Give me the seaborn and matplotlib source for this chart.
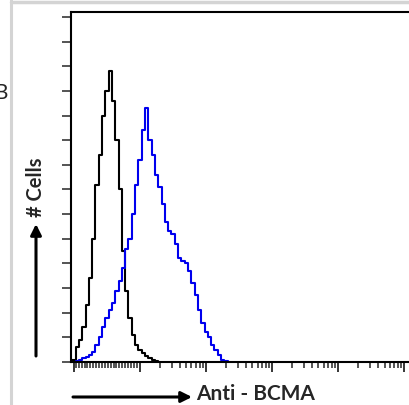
import numpy as np
import pandas as pd
import matplotlib
matplotlib.use('Agg')
import matplotlib.pyplot as plt
import seaborn as sns
from matplotlib.lines import Line2D

# log10 channel positions and cell counts
ctrl_log = [-0.05, 0.00, 0.05, 0.10, 0.15, 0.20, 0.25, 0.30, 0.35, 0.40, 0.45, 0.50,
            0.55, 0.60, 0.65, 0.70, 0.75, 0.80, 0.85, 0.90, 0.95, 1.00, 1.05,
            1.10, 1.15, 1.20, 1.25, 1.30]
ctrl_count = [0, 1, 6, 9, 14, 23, 34, 50, 72, 84, 100, 110,
              118, 106, 90, 70, 45, 29, 18, 11, 7, 5, 3.5,
              2.5, 1.5, 1, 0.5, 0]

bcma_log = [0.00, 0.05, 0.10, 0.15, 0.20, 0.25, 0.30, 0.35, 0.40, 0.45, 0.50,
            0.55, 0.60, 0.65, 0.70, 0.75, 0.80, 0.85, 0.90, 0.95, 1.00,
            1.05, 1.10, 1.15, 1.20, 1.25, 1.30, 1.35, 1.40, 1.45, 1.50,
            1.55, 1.60, 1.65, 1.70, 1.75, 1.80, 1.85, 1.90, 1.95, 2.00,
            2.05, 2.10, 2.15, 2.20, 2.25, 2.30, 2.35]
bcma_count = [0, 0.5, 1, 1.5, 2, 3, 4, 7, 10, 14, 18,
              21, 24, 29, 33, 38, 46, 50, 60, 72, 82,
              94, 103, 90, 84, 76, 71, 64, 57, 53, 52,
              48, 42, 41, 40, 37, 32, 27, 21, 16, 12,
              10, 7, 5, 3, 1, 0.5, 0]

ctrl = pd.DataFrame({'fl': np.power(10.0, ctrl_log), 'count': ctrl_count})
bcma = pd.DataFrame({'fl': np.power(10.0, bcma_log), 'count': bcma_count})

sns.set_style('white')
plt.rcParams['font.family'] = ['Lato', 'DejaVu Sans']

W, H = 409, 405
fig = plt.figure(figsize=(W / 100, H / 100), dpi=100)
ax = fig.add_axes([71 / W, 43 / H, (414 - 71) / W, 350 / H])

sns.lineplot(data=ctrl, x='fl', y='count', ax=ax, color='black', lw=1.5,
             drawstyle='steps-mid', sort=False)
sns.lineplot(data=bcma, x='fl', y='count', ax=ax, color='#0000ee', lw=1.5,
             drawstyle='steps-mid', sort=False)

ax.set_xscale('log')
ax.set_xlim(10 ** -0.044, 10 ** 5.145)
ax.set_ylim(0, 142)
ax.set_xlabel('')
ax.set_ylabel('')

ax.set_yticks(np.arange(0, 141, 10))
ax.set_xticks([10 ** k for k in range(6)])
minor = [10 ** v for v in np.linspace(0.03, 0.95, 22)]
for k in range(1, 5):
    minor += [m * 10 ** k for m in range(2, 10)]
ax.set_xticks(minor, minor=True)
ax.tick_params(axis='y', which='major', direction='out', length=6.5, width=1.1,
               left=True, labelleft=False)
ax.tick_params(axis='x', which='major', direction='out', length=7.5, width=1.3,
               bottom=True, labelbottom=False)
ax.tick_params(axis='x', which='minor', direction='out', length=4, width=1.1,
               bottom=True, labelbottom=False)
for s in ['left', 'bottom', 'top']:
    ax.spines[s].set_linewidth(1.5)
    ax.spines[s].set_color('black')
ax.spines['right'].set_visible(False)

# axis captions with arrows
fig.text(36 / W, (H - 187) / H, '# Cells', rotation=90, ha='center', va='center',
         fontsize=14.5, fontweight='bold')
ax.annotate('', xy=(36, H - 224), xytext=(36, H - 356), xycoords='figure pixels',
            textcoords='figure pixels',
            arrowprops=dict(arrowstyle='-|>', lw=2.2, color='black',
                            mutation_scale=16, shrinkA=0, shrinkB=0))
fig.text(196 / W, (H - 394) / H, 'Anti - BCMA', ha='left', va='center',
         fontsize=15, fontweight='bold')
ax.annotate('', xy=(192, H - 397), xytext=(73, H - 397), xycoords='figure pixels',
            textcoords='figure pixels',
            arrowprops=dict(arrowstyle='-|>', lw=2.2, color='black',
                            mutation_scale=16, shrinkA=0, shrinkB=0))

# page frame and panel letter cut off on the left
fig.add_artist(Line2D([11 / W, 11 / W], [0, 1], color='#d4d4d4', lw=2.2))
fig.add_artist(Line2D([11 / W, 1], [1 - 1.5 / H, 1 - 1.5 / H], color='#d4d4d4', lw=2.5))
fig.text(8 / W, (H - 93) / H, 'B', ha='right', va='center', fontsize=15)

plt.savefig('out.png', dpi=100)
